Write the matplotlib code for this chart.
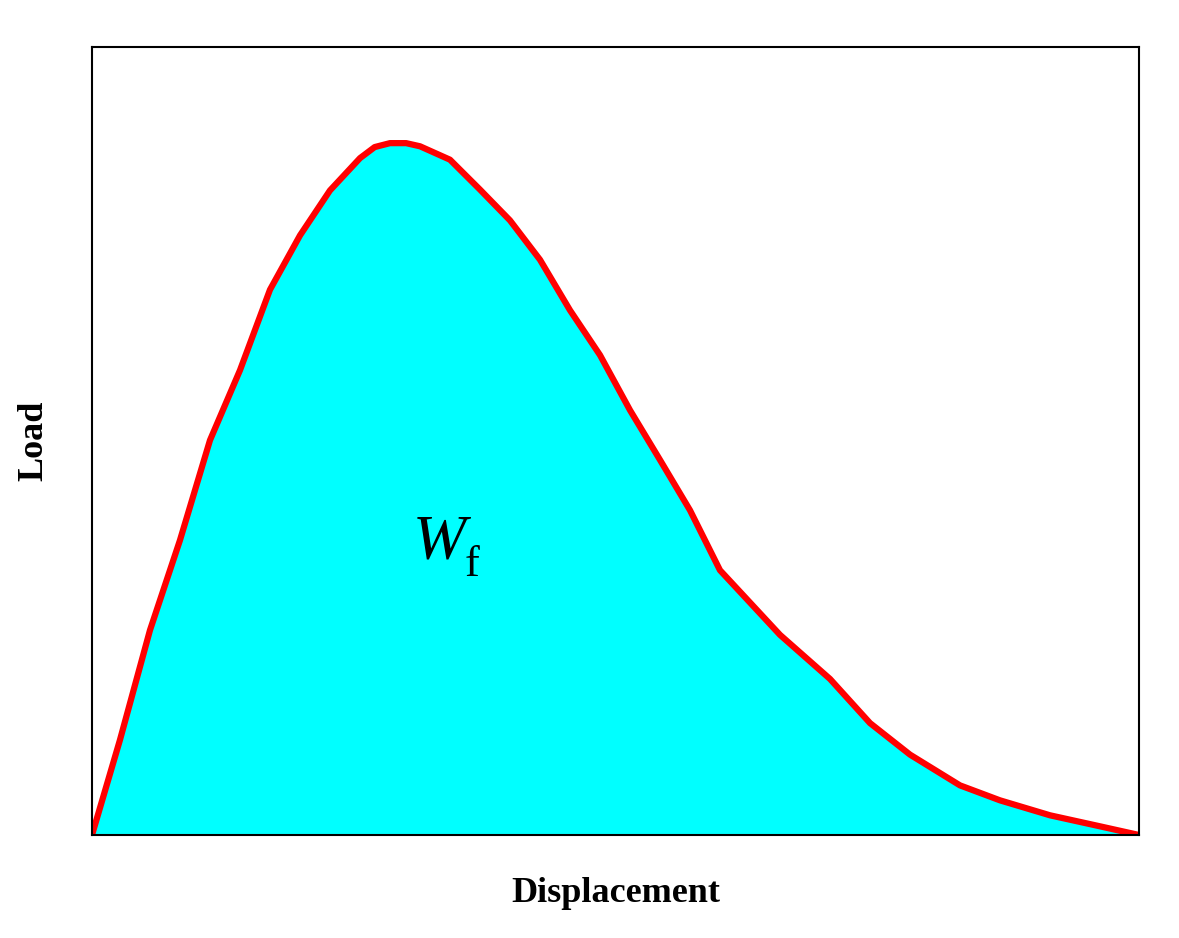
import matplotlib
matplotlib.use("Agg")
import matplotlib.pyplot as plt

displacement = [0, 2.67, 5.54, 8.4, 11.27, 14.14, 17.0, 19.87, 22.73, 25.6, 27.0, 28.46, 30.0, 31.33, 34.19, 37.06, 39.92, 42.79, 45.65, 48.52, 51.39, 54.25, 57.12, 59.98, 65.71, 70.49, 74.31, 78.13, 82.9, 86.72, 91.5, 96.28, 100]
load = [0, 12.06, 26.0, 37.4, 50.1, 59.0, 69.2, 76.1, 81.8, 85.9, 87.3, 87.8, 87.8, 87.4, 85.7, 81.9, 78.0, 73.0, 66.6, 60.9, 53.9, 47.6, 41.2, 33.6, 25.4, 19.8, 14.2, 10.2, 6.3, 4.4, 2.5, 1.1, 0]

plt.rcParams['font.family'] = ['Liberation Serif', 'DejaVu Serif']
fig = plt.figure(figsize=(11.79, 9.38), dpi=100)
ax = fig.add_axes([92/1179, 1-835/938, 1047/1179, 788/938])
ax.fill_between(displacement, load, 0, color='#00ffff', lw=0)
ax.plot(displacement, load, color='red', lw=4.5, solid_capstyle='round', solid_joinstyle='round')
ax.set_xlim(0, 100)
ax.set_ylim(0, 100)
ax.set_xticks([]); ax.set_yticks([])
for s in ax.spines.values():
    s.set_linewidth(1.5)
ax.set_xlabel('Displacement', fontsize=26, fontweight='bold', labelpad=30)
ax.set_ylabel('Load', fontsize=26, fontweight='bold', labelpad=30)
ax.text(33.2, 37, 'W', fontsize=46, ha='center', va='center', style='italic')
ax.text(35.6, 34.3, 'f', fontsize=32, ha='left', va='center')
fig.savefig('out.png', dpi=100)
